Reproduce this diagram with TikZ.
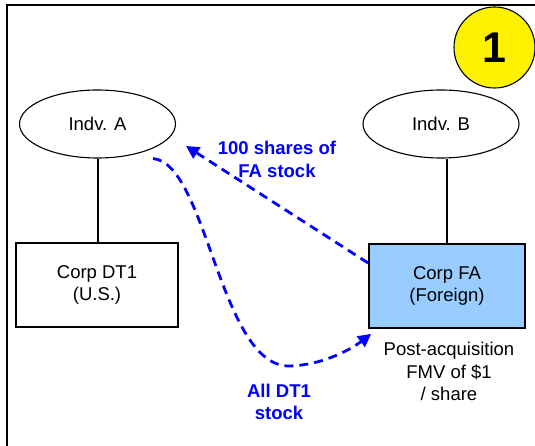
\documentclass[tikz,border=0pt]{standalone}
\usepackage{fontspec}
\setmainfont{Liberation Sans}
\usetikzlibrary{arrows.meta,shapes.geometric}
\definecolor{fablue}{HTML}{99CCFF}
\begin{document}
\begin{tikzpicture}[x=1pt,y=-1pt,
  every node/.style={font=\fontsize{18.5}{22.5}\selectfont, inner sep=0pt},
  ent/.style={draw, line width=1.1pt, ellipse, minimum width=156pt, minimum height=68pt},
  corp/.style={draw, line width=1.3pt, minimum width=162pt, minimum height=84pt, align=center},
  own/.style={line width=2pt},
  xfer/.style={draw=blue, line width=2.8pt, dash pattern=on 9pt off 6pt, -{Triangle[length=13pt,width=13pt]}},
  lbl/.style={text=blue, font=\bfseries\fontsize{18.5}{22.5}\selectfont, align=center},
  note/.style={align=center},
  badge/.style={circle, draw, fill=yellow, line width=1.1pt, minimum size=81pt, font=\bfseries\fontsize{43}{43}\selectfont}]
\useasboundingbox (0,0) rectangle (535,446);
\clip (0,0) rectangle (535,446);
\draw[line width=2pt] (7,5) rectangle (560,470);
\node[badge] (badge) at (494.5,47.5) {1};
\node[ent] (A) at (97.5,124) {Indv. A};
\node[ent] (B) at (441,124) {Indv. B};
\node[corp] (DT1) at (97,285) {Corp DT1\\(U.S.)};
\node[corp, fill=fablue, line width=1.8pt, minimum width=156pt] (FA) at (447,286) {Corp FA\\(Foreign)};
\draw[own] (A.south) -- (A.south |- DT1.north);
\draw[own] (FA.north) -- (FA.north |- B.south);
\node[lbl] (l1) at (277,159.5) {100 shares of\\FA stock};
\node[lbl] (l2) at (279,401.8) {All DT1\\stock};
\node[note] (fmv) at (449,371.5) {Post-acquisition\\FMV of \$1\\/ share};
\coordinate (t1) at (186,146);
\coordinate (s2) at ([xshift=55.5pt]A.south);
\coordinate (t2) at ([shift={(3pt,-5pt)}]FA.south west);
\draw[xfer] ([yshift=23pt]FA.west) -- (t1);
\draw[xfer] (s2) .. controls (207,163) and (220,368) .. (290,366) .. controls (322,365) and (350,350) .. (t2);
\end{tikzpicture}
\end{document}
